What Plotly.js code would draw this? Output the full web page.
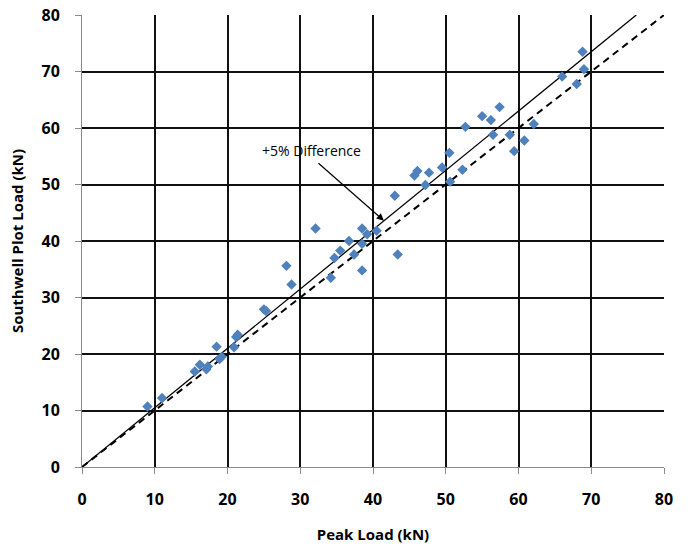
<!DOCTYPE html>
<html>
<head>
<meta charset="utf-8">
<script src="https://cdn.plot.ly/plotly-3.0.1.min.js"></script>
<style>html,body{margin:0;padding:0;background:#fff;}#chart{width:696px;height:553px;}</style>
</head>
<body>
<div id="chart"></div>
<script>
var peakLoad = [9.0, 11.0, 15.5, 16.2, 17.1, 17.3, 18.5, 18.9, 19.2, 20.9, 21.2, 21.4,
  25.0, 25.3, 28.1, 28.8, 32.1, 34.2, 34.7, 35.5, 36.7, 37.4, 38.5, 38.5, 38.5, 39.2, 40.5,
  43.0, 43.4, 45.7, 46.1, 47.2, 47.7, 49.5, 50.5, 50.6, 52.3, 52.7, 55.0, 56.2, 57.4, 56.5,
  58.8, 59.4, 60.8, 62.1, 66.0, 68.0, 69.0, 68.8];
var southwellLoad = [10.7, 12.2, 16.9, 18.1, 17.3, 17.8, 21.3, 19.1, 19.5, 21.2, 23.0, 23.4,
  27.9, 27.6, 35.6, 32.3, 42.2, 33.5, 37.0, 38.3, 40.0, 37.6, 42.2, 39.5, 34.8, 41.2, 41.8,
  48.0, 37.6, 51.6, 52.4, 49.9, 52.1, 53.0, 55.6, 50.5, 52.6, 60.2, 62.1, 61.4, 63.7, 58.8,
  58.8, 55.9, 57.8, 60.7, 69.1, 67.8, 70.4, 73.5];
var equalityX = [0, 80];
var equalityY = [0, 80];
var plusFiveX = [0, 76.19];
var plusFiveY = [0, 80];
var tickVals = [0, 10, 20, 30, 40, 50, 60, 70, 80];
var annotationText = "+5% Difference";
var xTitle = "Peak Load (kN)";
var yTitle = "Southwell Plot Load (kN)";

var fontFam = 'Open Sans, Liberation Sans, sans-serif';
var traces = [
  {x: equalityX, y: equalityY, mode: 'lines', line: {color: '#000', width: 2, dash: '7px,5px'}, hoverinfo: 'skip'},
  {x: plusFiveX, y: plusFiveY, mode: 'lines', line: {color: '#000', width: 1.3}, hoverinfo: 'skip'},
  {x: peakLoad, y: southwellLoad, mode: 'markers', type: 'scatter',
   marker: {symbol: 'diamond', size: 8, color: '#4F81BD', line: {width: 0}}}
];

var axisCommon = {
  range: [0, 80], tickvals: tickVals, showgrid: true, gridcolor: '#111', gridwidth: 2,
  zeroline: false, showline: true, linecolor: '#8a8a8a', linewidth: 1,
  ticks: 'outside', ticklen: 6, tickcolor: '#8a8a8a', tickwidth: 1,
  tickfont: {family: fontFam, size: 16, color: '#000', weight: 'bold'},
  fixedrange: true
};

var layout = {
  width: 696, height: 553,
  margin: {l: 82, r: 32, t: 15, b: 86},
  showlegend: false,
  paper_bgcolor: '#fff', plot_bgcolor: '#fff',
  xaxis: Object.assign({}, axisCommon, {
    ticklabelstandoff: 12,
    title: {text: xTitle, standoff: 20, font: {family: fontFam, size: 15, color: '#000', weight: 'bold'}}
  }),
  yaxis: Object.assign({}, axisCommon, {
    ticklabelstandoff: 12,
    title: {text: yTitle, standoff: 14, font: {family: fontFam, size: 15, color: '#000', weight: 'bold'}}
  }),
  annotations: [
    {x: 31.6, y: 56.1, xref: 'x', yref: 'y', text: annotationText, showarrow: false,
     font: {family: fontFam, size: 14, color: '#000'}},
    {x: 41.5, y: 43.6, ax: 32.3, ay: 54.0, axref: 'x', ayref: 'y', xref: 'x', yref: 'y', text: '',
     showarrow: true, arrowhead: 2, arrowsize: 1.2, arrowwidth: 1.2, arrowcolor: '#000'}
  ]
};

Plotly.newPlot('chart', traces, layout, {displayModeBar: false, staticPlot: true});
</script>
</body>
</html>
